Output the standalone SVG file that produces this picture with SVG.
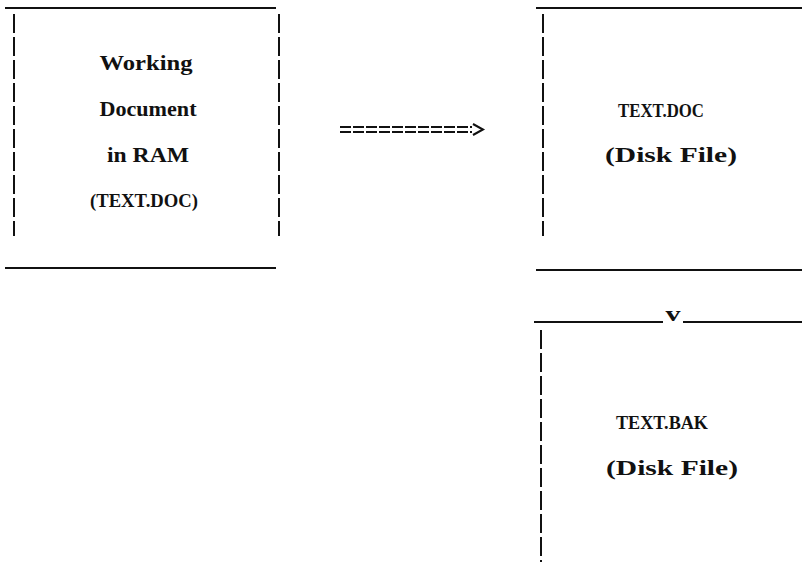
<svg xmlns="http://www.w3.org/2000/svg" width="802" height="584" viewBox="0 0 802 584">
<style>
.t{font-family:"Liberation Serif","DejaVu Serif",serif;font-size:21px;font-weight:bold;fill:#111;text-anchor:middle}
.c{font-size:18.5px}
.h{stroke:#111;stroke-width:2;fill:none}
.v{stroke:#111;stroke-width:2;fill:none;stroke-dasharray:19 4}
</style>
<rect width="802" height="584" fill="#fff"/>
<g id="ram">
<line class="h" x1="5" y1="8" x2="276" y2="8"/>
<line class="h" x1="5" y1="268" x2="276" y2="268"/>
<line class="v" x1="14" y1="14" x2="14" y2="236"/>
<line class="v" x1="279" y1="14" x2="279" y2="236"/>
<text class="t" x="146" y="70" textLength="93" lengthAdjust="spacingAndGlyphs">Working</text>
<text class="t" x="148" y="116" textLength="97" lengthAdjust="spacingAndGlyphs">Document</text>
<text class="t" x="148" y="162" textLength="82" lengthAdjust="spacingAndGlyphs">in RAM</text>
<text class="t c" x="144" y="207" textLength="108" lengthAdjust="spacingAndGlyphs">(TEXT.DOC)</text>
</g>
<g id="doc">
<line class="h" x1="536" y1="8" x2="802" y2="8"/>
<line class="h" x1="536" y1="270" x2="802" y2="270"/>
<line class="v" x1="543" y1="14" x2="543" y2="236"/>
<text class="t c" x="661" y="117" textLength="86" lengthAdjust="spacingAndGlyphs">TEXT.DOC</text>
<text class="t" x="671" y="162" textLength="132" lengthAdjust="spacingAndGlyphs">(Disk File)</text>
</g>
<g id="bak">
<line class="h" x1="534" y1="322" x2="802" y2="322"/>
<line class="v" x1="541" y1="330" x2="541" y2="562"/>
<text class="t c" x="662" y="429" textLength="92" lengthAdjust="spacingAndGlyphs">TEXT.BAK</text>
<text class="t" x="672" y="475" textLength="132" lengthAdjust="spacingAndGlyphs">(Disk File)</text>
</g>
<g id="connectors">
<path class="h" d="M340 127H472M340 132H472" stroke-dasharray="11 2"/>
<path class="h" d="M473 124L483 129.5L473 135" stroke-width="2.5"/>
<rect x="663" y="316" width="20" height="8" fill="#fff"/>
<text class="t" x="673" y="321" textLength="15" lengthAdjust="spacingAndGlyphs">v</text>
</g>
</svg>
